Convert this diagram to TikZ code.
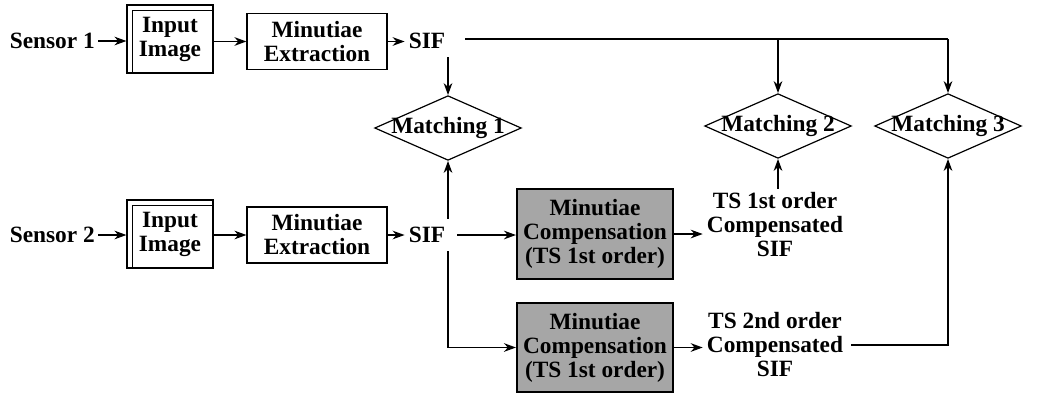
\documentclass[tikz,border=0pt]{standalone}
\usepackage{fontspec}
\setmainfont{Liberation Serif}
\usetikzlibrary{shapes.geometric,arrows.meta,calc}
\begin{document}
\begin{tikzpicture}[x=0.75pt,y=-0.75pt,
  every node/.style={font=\bfseries\fontsize{17.5}{18}\selectfont, align=center, inner sep=0pt},
  lbl/.style={},
  imgbox/.style={draw, line width=0.9pt, minimum width=64.5pt, minimum height=51pt},
  extbox/.style={draw, line width=0.9pt, minimum width=105pt, minimum height=42pt},
  compbox/.style={draw, line width=1.6pt, fill=black!35, minimum width=117pt, minimum height=67pt},
  decide/.style={diamond, draw, line width=0.9pt, minimum width=110pt, minimum height=48.5pt},
  conn/.style={line width=1pt, -{Stealth[length=9pt,width=6.5pt]}},
  plain/.style={line width=1pt}
]
\useasboundingbox (0,0) rectangle (1037,393);
% row 1
\node[lbl, anchor=east] (s1) at (95,41) {Sensor 1};
\node[imgbox] (in1) at (170,39) {Input\\Image};
\node[extbox] (me1) at (317,41.5) {Minutiae\\Extraction};
\node[lbl] (sif1) at (427,41) {SIF};
% matching
\node[decide] (m1) at (448,128) {\makebox[0pt]{Matching 1}};
\node[decide] (m2) at (778,126) {\makebox[0pt]{Matching 2}};
\node[decide] (m3) at (948,126) {\makebox[0pt]{Matching 3}};
% row 2
\node[lbl, anchor=east] (s2) at (95,235) {Sensor 2};
\node[imgbox] (in2) at (170,234) {Input\\Image};
\node[extbox] (me2) at (317,235) {Minutiae\\Extraction};
\node[lbl] (sif2) at (427,235) {SIF};
\node[compbox] (c1) at (595,234) {Minutiae\\Compensation\\(TS 1st order)};
\node[compbox] (c2) at (595,347.5) {Minutiae\\Compensation\\(TS 1st order)};
\node[lbl] (ts1) at (775,225) {TS 1st order\\Compensated\\SIF};
\node[lbl] (ts2) at (775,345) {TS 2nd order\\Compensated\\SIF};
% double lines of input image boxes
\foreach \b in {in1,in2}{
  \draw[line width=0.6pt] ($(\b.south west)+(6,0)$) -- ($(\b.north west)+(6,6)$) -- ($(\b.north east)+(0,6)$);
}
% connectors row 1
\draw[conn] ($(s1.east)+(3,0)$) -- (in1.west |- s1.east);
\draw[conn] (in1.east |- me1.west) -- (me1.west);
\draw[conn] (me1.east) -- ($(sif1.west |- me1.east)+(-4,0)$);
\draw[conn] ($(m1.north |- sif1.south)+(0,8)$) -- (m1.north);
\draw[plain] ($(sif1.east)+(20,-2)$) -- ($(m3.north |- sif1.east)+(0,-2)$);
\draw[conn] ($(m2.north |- sif1.east)+(0,-2)$) -- (m2.north);
\draw[conn] ($(m3.north |- sif1.east)+(0,-2)$) -- (m3.north);
% connectors row 2
\draw[conn] ($(s2.east)+(3,0)$) -- (in2.west |- s2.east);
\draw[conn] (in2.east |- me2.west) -- (me2.west);
\draw[conn] (me2.east) -- ($(sif2.west |- me2.east)+(-4,0)$);
\draw[conn] ($(m1.south |- sif2.north)+(0,-8)$) -- (m1.south);
\draw[conn] ($(m1.south |- sif2.south)+(0,8)$) |- (c2.west);
\draw[conn] ($(sif2.east)+(12,0)$) -- (c1.west |- sif2.east);
\draw[conn] (c1.east) -- ($(ts1.west |- c1.east)+(-4,0)$);
\draw[conn] (c2.east) -- ($(ts2.west |- c2.east)+(-4,0)$);
\draw[conn] ($(m2.south |- ts1.north)+(0,-4)$) -- (m2.south);
\draw[conn] ($(ts2.east)+(8,0)$) -| (m3.south);
\end{tikzpicture}
\end{document}
